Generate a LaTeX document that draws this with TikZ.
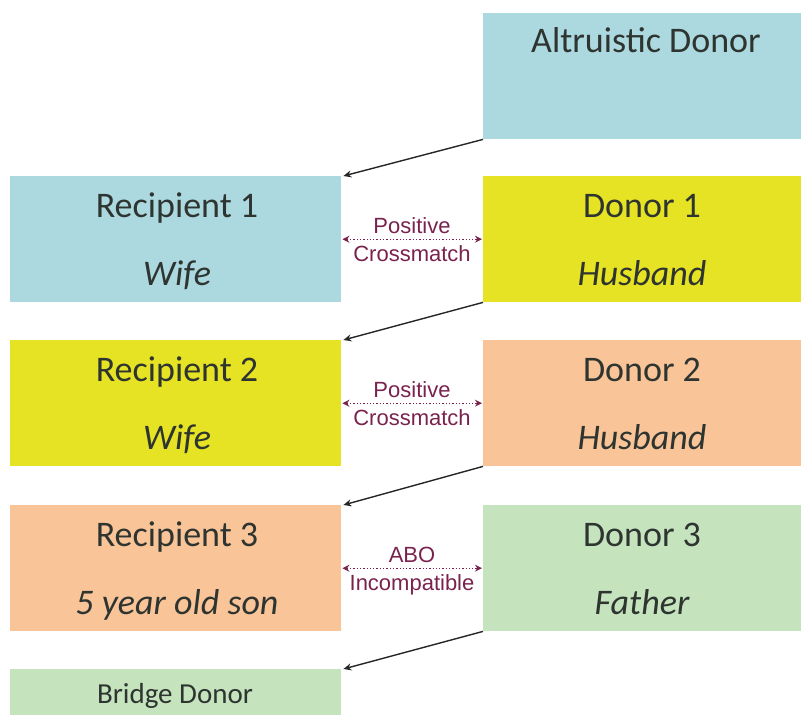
\documentclass[tikz,border=0pt]{standalone}
\usepackage{fontspec}
\setmainfont{Carlito}
\newfontfamily\labelfont{Liberation Sans}
\usetikzlibrary{arrows.meta}
\definecolor{cblue}{RGB}{172,216,223}
\definecolor{cyellow}{RGB}{230,226,36}
\definecolor{cpeach}{RGB}{249,196,152}
\definecolor{cgreen}{RGB}{197,228,190}
\definecolor{ctext}{RGB}{46,52,48}
\definecolor{cmaroon}{RGB}{122,34,78}
\tikzset{
  box/.style={draw=none, minimum width=331pt, minimum height=126pt, inner sep=0pt, anchor=north west},
  dbox/.style={draw=none, minimum width=318pt, minimum height=126pt, inner sep=0pt, anchor=north west},
  big/.style={text=ctext, anchor=base, inner sep=0pt, font=\fontsize{36}{40}\selectfont},
  bigit/.style={text=ctext, anchor=base, inner sep=0pt, font=\fontsize{36}{40}\selectfont\itshape},
  small/.style={text=ctext, anchor=base, inner sep=0pt, font=\fontsize{29}{32}\selectfont},
  lab/.style={text=cmaroon, anchor=base, inner sep=0pt, font=\labelfont\fontsize{22}{24}\selectfont},
  link/.style={-{Stealth[length=8pt,width=7pt]}, line width=1.4pt, draw=black!85},
  cross/.style={{Stealth[length=7pt,width=7pt]}-{Stealth[length=7pt,width=7pt]}, line width=1.3pt, draw=cmaroon, dotted}
}
\begin{document}
\begin{tikzpicture}[x=1pt,y=-1pt]
\useasboundingbox (0,0) rectangle (801,715);
% boxes
\node[dbox, fill=cblue] (alt) at (483,13) {};
\node[box, fill=cblue] (r1) at (10,176) {};
\node[dbox, fill=cyellow] (d1) at (483,176) {};
\node[box, fill=cyellow] (r2) at (10,340) {};
\node[dbox, fill=cpeach] (d2) at (483,340) {};
\node[box, fill=cpeach] (r3) at (10,505) {};
\node[dbox, fill=cgreen] (d3) at (483,505) {};
\node[box, fill=cgreen] (bd) at (10,669) {};
% texts
\node[big] (altt) at (646,52) {Altruistic Donor};
\node[big] (r1a) at (177,217) {Recipient 1};
\node[bigit] (r1b) at (177,285) {Wife};
\node[big] (d1a) at (642,217) {Donor 1};
\node[bigit] (d1b) at (642,285) {Husband};
\node[big] (r2a) at (177,381) {Recipient 2};
\node[bigit] (r2b) at (177,449) {Wife};
\node[big] (d2a) at (642,381) {Donor 2};
\node[bigit] (d2b) at (642,449) {Husband};
\node[big] (r3a) at (177,546) {Recipient 3};
\node[bigit] (r3b) at (177,614) {5 year old son};
\node[big] (d3a) at (642,546) {Donor 3};
\node[bigit] (d3b) at (642,614) {Father};
\node[small] (bdt) at (175,703) {Bridge Donor};
% cross labels
\node[lab] (l1a) at (412,233) {Positive};
\node[lab] (l1b) at (412,261) {Crossmatch};
\node[lab] (l2a) at (412,397) {Positive};
\node[lab] (l2b) at (412,425) {Crossmatch};
\node[lab] (l3a) at (412,562) {ABO};
\node[lab] (l3b) at (412,590) {Incompatible};
\draw[cross] ([xshift=1pt]r1.east) -- ([xshift=-1pt]d1.west);
\draw[cross] ([xshift=1pt]r2.east) -- ([xshift=-1pt]d2.west);
\draw[cross] ([xshift=1pt]r3.east) -- ([xshift=-1pt]d3.west);
% chain arrows
\draw[link] (alt.south west) -- ([xshift=2pt]r1.north east);
\draw[link] (d1.south west) -- ([xshift=2pt]r2.north east);
\draw[link] (d2.south west) -- ([xshift=2pt]r3.north east);
\draw[link] (d3.south west) -- ([xshift=2pt]bd.north east);
\end{tikzpicture}
\end{document}
